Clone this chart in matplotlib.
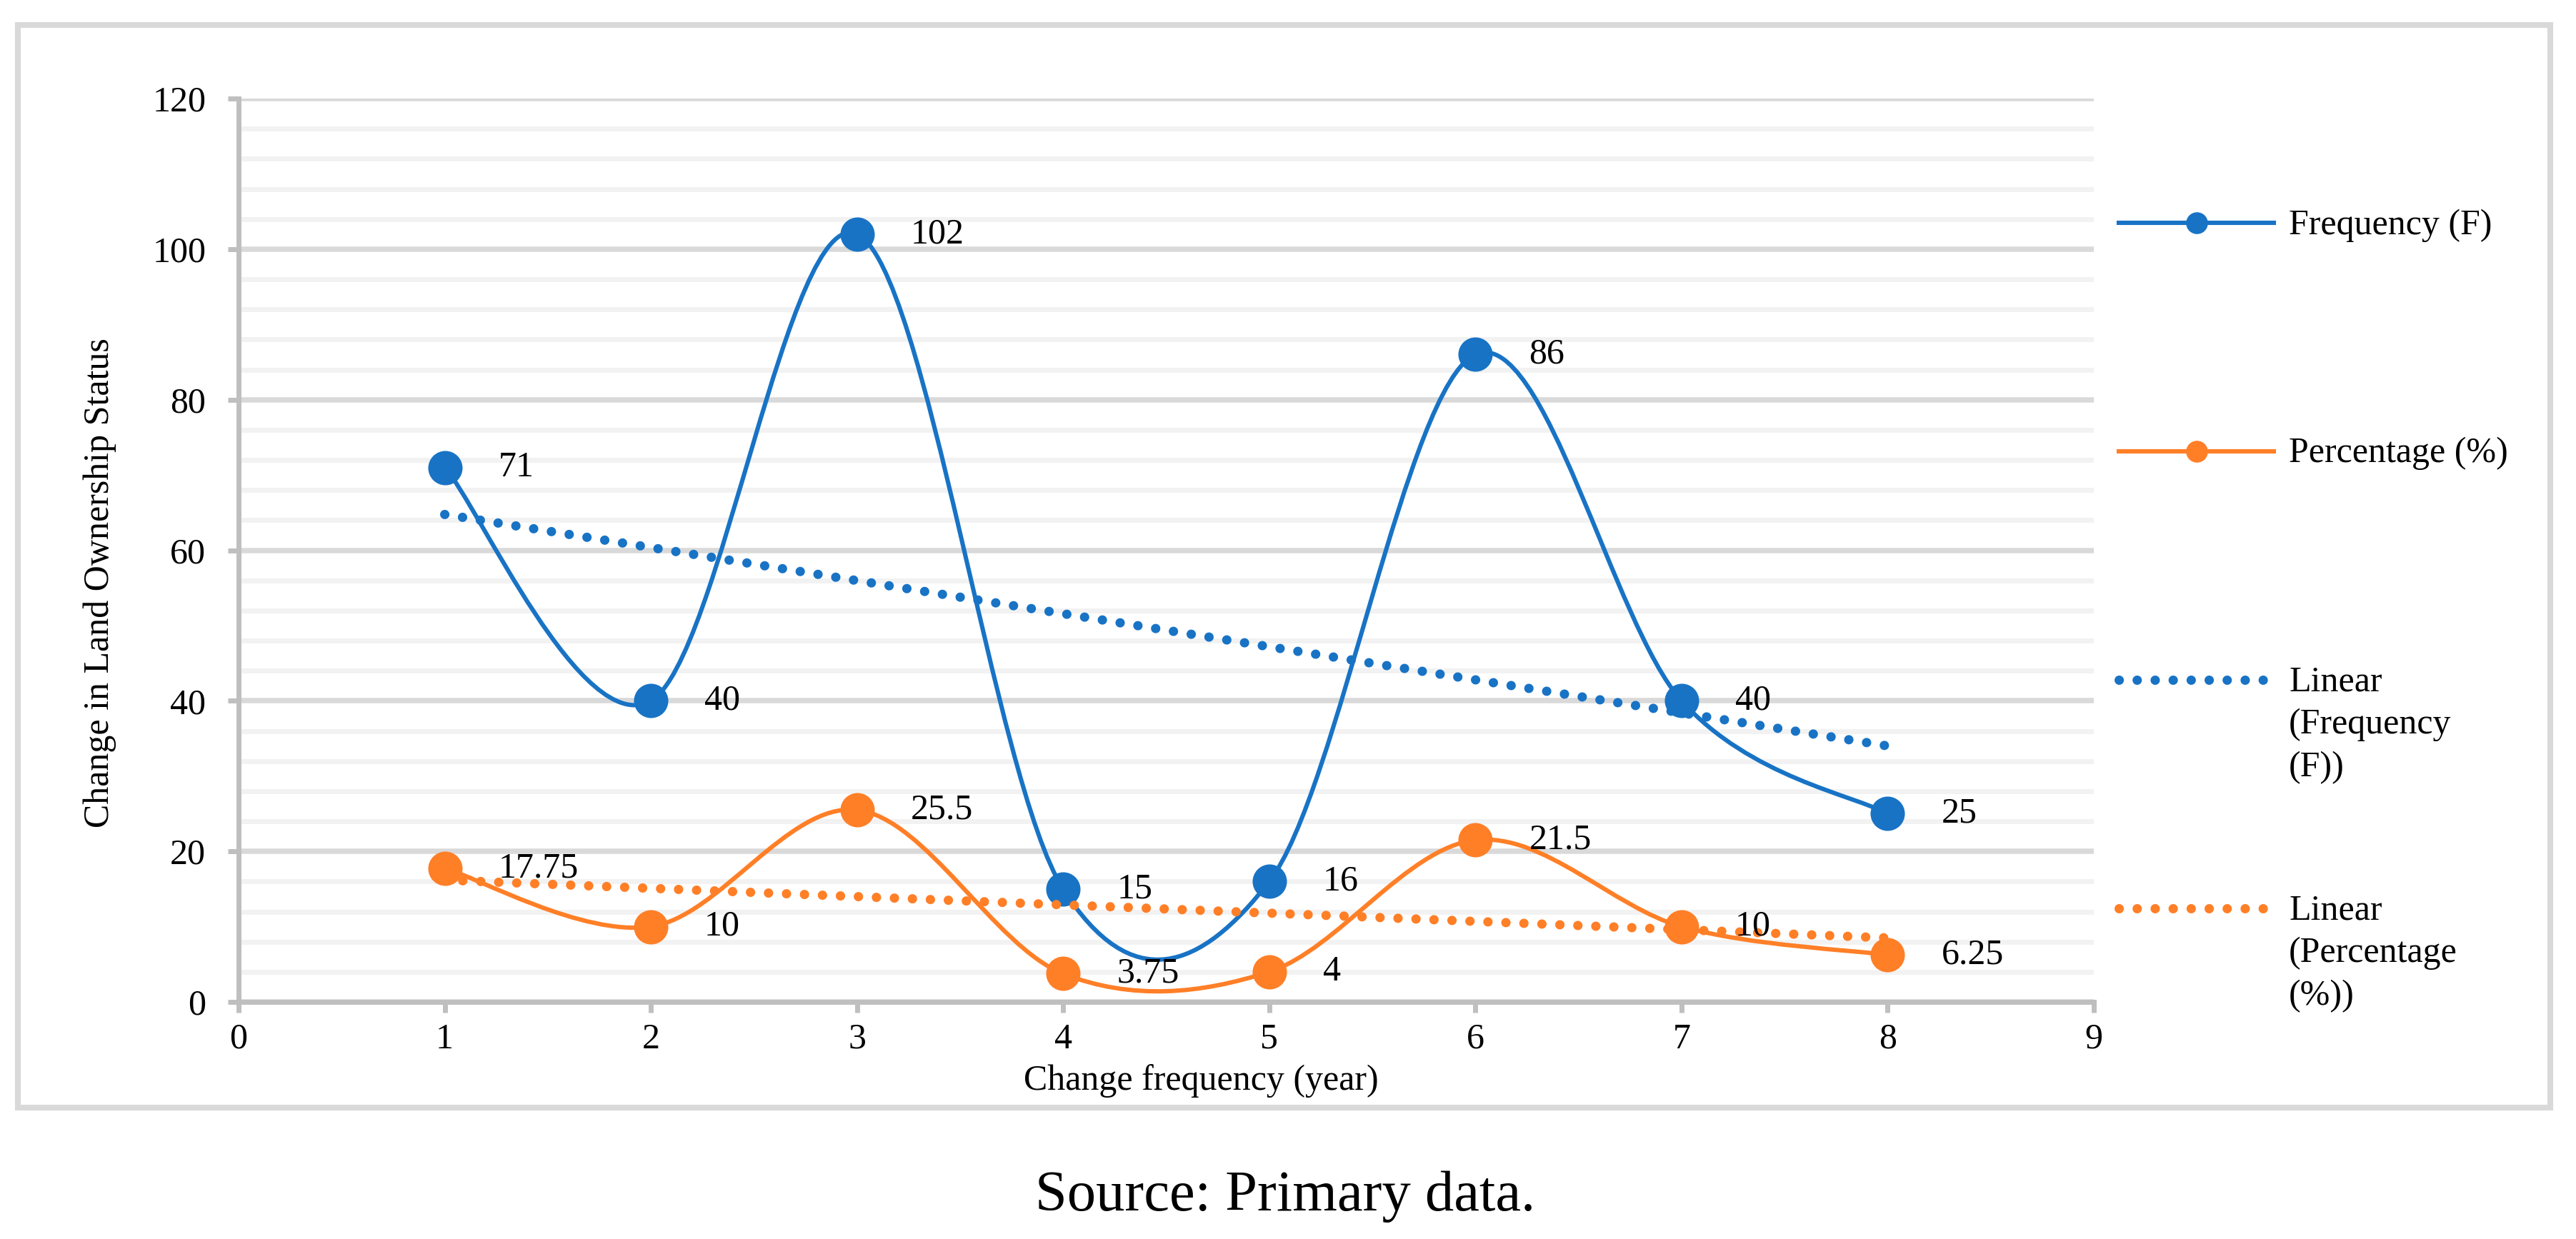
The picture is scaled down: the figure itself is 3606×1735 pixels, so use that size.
import numpy as np
import matplotlib
matplotlib.use("Agg")
import matplotlib.pyplot as plt
from matplotlib.path import Path
from matplotlib.patches import PathPatch, Rectangle
from matplotlib.lines import Line2D
from matplotlib.ticker import MultipleLocator

# dados
years = [1, 2, 3, 4, 5, 6, 7, 8]
frequency = [71, 40, 102, 15, 16, 86, 40, 25]
percentage = [17.75, 10, 25.5, 3.75, 4, 21.5, 10, 6.25]
freq_labels = ['71', '40', '102', '15', '16', '86', '40', '25']
pct_labels = ['17.75', '10', '25.5', '3.75', '4', '21.5', '10', '6.25']
x_ticks = [0, 1, 2, 3, 4, 5, 6, 7, 8, 9]
y_ticks = [0, 20, 40, 60, 80, 100, 120]
legend_labels = ['Frequency (F)', 'Percentage (%)',
                 'Linear\n(Frequency\n(F))', 'Linear\n(Percentage\n(%))']

BLUE = '#1873c5'
ORANGE = '#ff7f27'
GRID_MAJOR = '#d9d9d9'
GRID_MINOR = '#f2f2f2'
AXIS_GRAY = '#bfbfbf'

W, H = 3606, 1735
DPI = 200

plt.rcParams['font.family'] = ['Liberation Serif', 'DejaVu Serif']


def smooth_path(x, y):
    # linha suavizada tipo Excel: Bezier cúbica com pontos de controle Catmull-Rom
    pts = np.column_stack([np.asarray(x, float), np.asarray(y, float)])
    n = len(pts)
    verts = [pts[0]]
    codes = [Path.MOVETO]
    for i in range(n - 1):
        p0 = pts[max(i - 1, 0)]
        p1 = pts[i]
        p2 = pts[i + 1]
        p3 = pts[min(i + 2, n - 1)]
        verts += [p1 + (p2 - p0) / 6, p2 - (p3 - p1) / 6, p2]
        codes += [Path.CURVE4] * 3
    return Path(verts, codes)


fig = plt.figure(figsize=(W / DPI, H / DPI), dpi=DPI)

# moldura externa do gráfico
fig.patches.append(Rectangle((25 / W, 1 - 1551 / H), (3570 - 25) / W, (1551 - 35) / H,
                             transform=fig.transFigure, fill=False,
                             edgecolor=GRID_MAJOR, linewidth=2.9))

ax = fig.add_axes([334 / W, 1 - 1403 / H, (2931 - 334) / W, (1403 - 138) / H])
ax.set_xlim(0, 9)
ax.set_ylim(0, 120)
ax.set_xticks(x_ticks)
ax.set_yticks(y_ticks)
ax.yaxis.set_minor_locator(MultipleLocator(4))
ax.set_axisbelow(True)
ax.grid(axis='y', which='minor', color=GRID_MINOR, linewidth=2.5)
ax.grid(axis='y', which='major', color=GRID_MAJOR, linewidth=2.7)
for s in ['top', 'right']:
    ax.spines[s].set_visible(False)
for s in ['left', 'bottom']:
    ax.spines[s].set_color(AXIS_GRAY)
    ax.spines[s].set_linewidth(2.5)
    ax.spines[s].set_zorder(1.5)
ax.tick_params(axis='both', which='major', color=AXIS_GRAY, width=2.5,
               length=5.5, labelsize=18)
ax.tick_params(axis='y', which='major', pad=11)
ax.tick_params(axis='x', which='major', pad=5)
ax.tick_params(axis='y', which='minor', length=0)

ax.set_xlabel('Change frequency (year)', fontsize=18)
ax.xaxis.set_label_coords(0.519, -0.087)
ax.xaxis.label.set_verticalalignment('center')
ax.set_ylabel('Change in Land Ownership Status', fontsize=18)
ax.yaxis.set_label_coords(-0.0747, 0.464)
ax.yaxis.label.set_verticalalignment('center')

# séries suavizadas + marcadores
for vals, col in [(frequency, BLUE), (percentage, ORANGE)]:
    ax.add_patch(PathPatch(smooth_path(years, vals), facecolor='none',
                           edgecolor=col, linewidth=2.2, zorder=3,
                           capstyle='round', joinstyle='round'))
    ax.plot(years, vals, 'o', color=col, markersize=17.3,
            markeredgewidth=0, zorder=4)

# linhas de tendência linear
for vals, col in [(frequency, BLUE), (percentage, ORANGE)]:
    coef = np.polyfit(years, vals, 1)
    ends = [years[0], years[-1]]
    ax.plot(ends, np.polyval(coef, ends), color=col, linewidth=4.7,
            linestyle=(0, (0.01, 1.92)), dash_capstyle='round', zorder=5)

# rótulos de dados
for vals, labs in [(frequency, freq_labels), (percentage, pct_labels)]:
    for xi, yi, lab in zip(years, vals, labs):
        ax.annotate(lab, (xi, yi), xytext=(27, 0), textcoords='offset points',
                    ha='left', va='center', fontsize=18, zorder=6)

# legenda (feita à mão para alinhar o símbolo com a primeira linha)
leg_x0, leg_x1, leg_text_x = 2966 / W, 3183 / W, 3204 / W
leg_px = [312, 632, 952, 1272]
styles = [
    dict(color=BLUE, linewidth=2.2),
    dict(color=ORANGE, linewidth=2.2),
    dict(color=BLUE, linewidth=4.7, linestyle=(0, (0.01, 1.92)), dash_capstyle='round'),
    dict(color=ORANGE, linewidth=4.7, linestyle=(0, (0.01, 1.92)), dash_capstyle='round'),
]
for i, (lab, st) in enumerate(zip(legend_labels, styles)):
    y = 1 - leg_px[i] / H
    fig.add_artist(Line2D([leg_x0, leg_x1], [y, y], transform=fig.transFigure, **st))
    if i < 2:
        fig.add_artist(Line2D([(leg_x0 + leg_x1) / 2], [y], transform=fig.transFigure,
                              marker='o', markersize=11, markeredgewidth=0,
                              color=st['color'], linestyle='none'))
    # topo do texto um pouco acima do símbolo, para a 1a linha ficar centrada nele
    fig.text(leg_text_x, 1 - (leg_px[i] - 20) / H, lab, ha='left', va='top',
             fontsize=18, linespacing=1.38)

fig.text(0.499, 1 - 1695 / H, 'Source: Primary data.', ha='center',
         va='baseline', fontsize=29)

fig.savefig('out.png', dpi=DPI, facecolor='white')
